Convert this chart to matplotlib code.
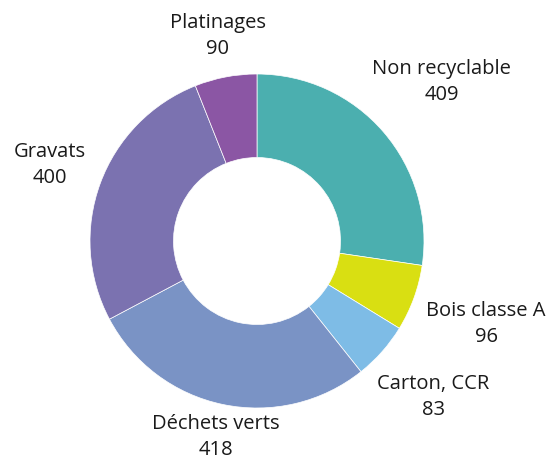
import numpy as np
import matplotlib.pyplot as plt

plt.rcParams['font.family'] = ['Open Sans', 'DejaVu Sans']

labels = ["Non recyclable", "Bois classe A", "Carton, CCR", "Déchets verts", "Gravats", "Platinages"]
values = [409, 96, 83, 418, 400, 90]
colors = ["#4BAFAF", "#D9DF12", "#7EBCE6", "#7A93C5", "#7B72B0", "#8B56A4"]
# distance of each label from the centre (in outer radius units)
label_dist = [1.46, 1.46, 1.41, 1.20, 1.32, 1.25]

fig = plt.figure(figsize=(5.5, 4.62), dpi=100)
ax = fig.add_axes([0, 0, 1, 1])

wedges, _ = ax.pie(values, colors=colors, startangle=90, counterclock=False,
                   radius=1.0, wedgeprops=dict(width=0.5, edgecolor='white', linewidth=0.5))

R = 167.0
cx, cy = 257.0, 241.0
ax.set_xlim(-cx / R, (550 - cx) / R)
ax.set_ylim(-(462 - cy) / R, cy / R)
ax.set_aspect('equal')
ax.axis('off')

total = sum(values)
cum = np.cumsum([0] + values)
for i, lab in enumerate(labels):
    frac = (cum[i] + values[i] / 2) / total
    ang = np.deg2rad(90 - 360 * frac)
    x = label_dist[i] * np.cos(ang)
    y = label_dist[i] * np.sin(ang)
    ax.text(x, y, f"{lab}\n{values[i]}", ha='center', va='center',
            fontsize=14.5, color='#1a1a1a', linespacing=1.4)

fig.savefig("out.png", dpi=100)
